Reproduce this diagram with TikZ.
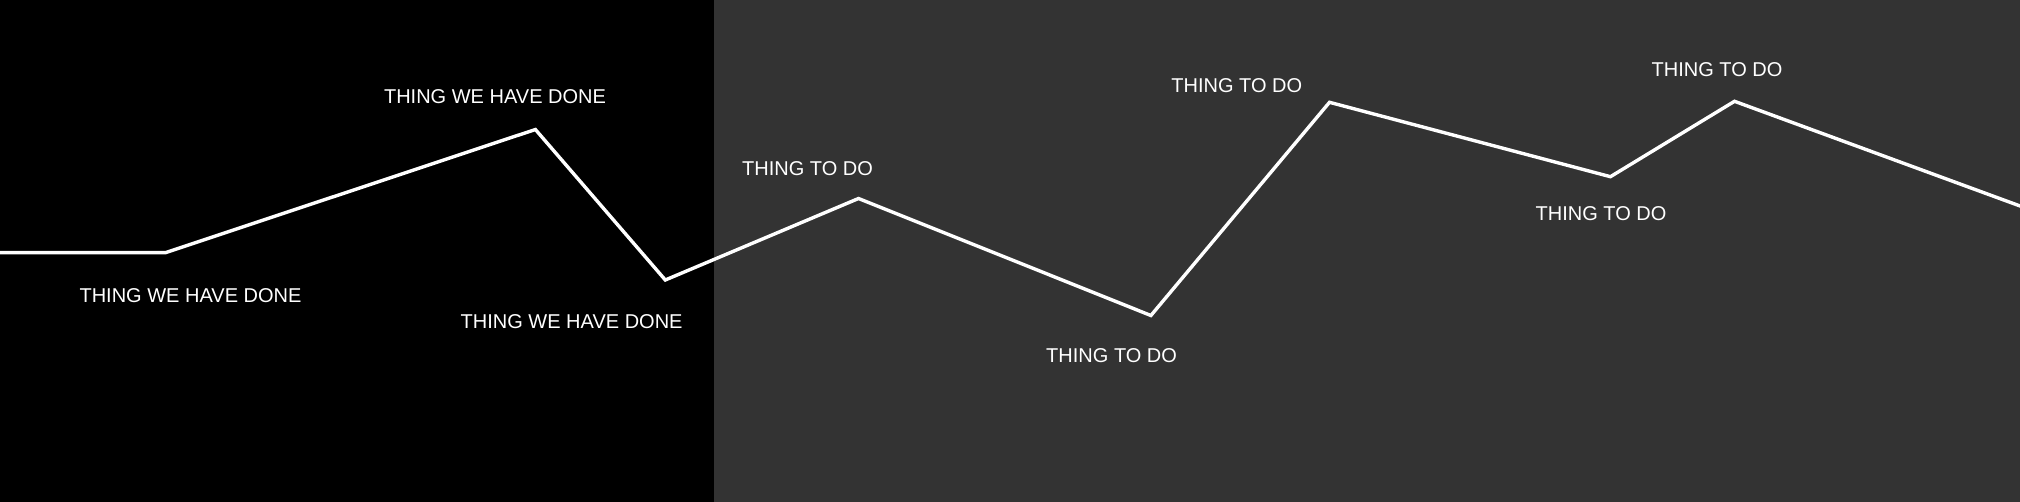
\documentclass[tikz,border=0pt]{standalone}
\usepackage{fontspec}
\setmainfont{Liberation Sans}
\definecolor{doneBg}{HTML}{000000}
\definecolor{todoBg}{HTML}{333333}
\tikzset{
  lbl/.style={text=white, inner sep=0pt, font=\fontsize{20pt}{22pt}\selectfont, anchor=center},
  pathline/.style={draw=white, line width=3.4pt, line join=miter}
}
\begin{document}
\begin{tikzpicture}[x=1pt,y=-1pt]
\useasboundingbox (0,0) rectangle (2020,502);
\fill[doneBg] (0,0) rectangle (714,502);
\fill[todoBg] (714,0) rectangle (2020,502);
% path points
\coordinate (p0) at (-2,252.7);
\coordinate (p1) at (165.3,252.7);
\coordinate (p2) at (535.4,129.5);
\coordinate (p3) at (665.3,280);
\coordinate (p4) at (858.5,198.5);
\coordinate (p5) at (1150.9,315.5);
\coordinate (p6) at (1329.5,102.3);
\coordinate (p7) at (1610.4,176.7);
\coordinate (p8) at (1734.5,101.3);
\coordinate (p9) at (2022,206.7);
\draw[pathline] (p0) -- (p1) -- (p2) -- (p3) -- (p4) -- (p5) -- (p6) -- (p7) -- (p8) -- (p9);
% labels
\node[lbl] (l1) at (190.5,295.8) {THING WE HAVE DONE};
\node[lbl] (l2) at (495,96.8) {THING WE HAVE DONE};
\node[lbl] (l3) at (571.6,321.5) {THING WE HAVE DONE};
\node[lbl] (l4) at (807.6,169) {THING TO DO};
\node[lbl] (l5) at (1111.6,355.5) {THING TO DO};
\node[lbl] (l6) at (1236.8,85.5) {THING TO DO};
\node[lbl] (l7) at (1601,214) {THING TO DO};
\node[lbl] (l8) at (1717,69.5) {THING TO DO};
\end{tikzpicture}
\end{document}
